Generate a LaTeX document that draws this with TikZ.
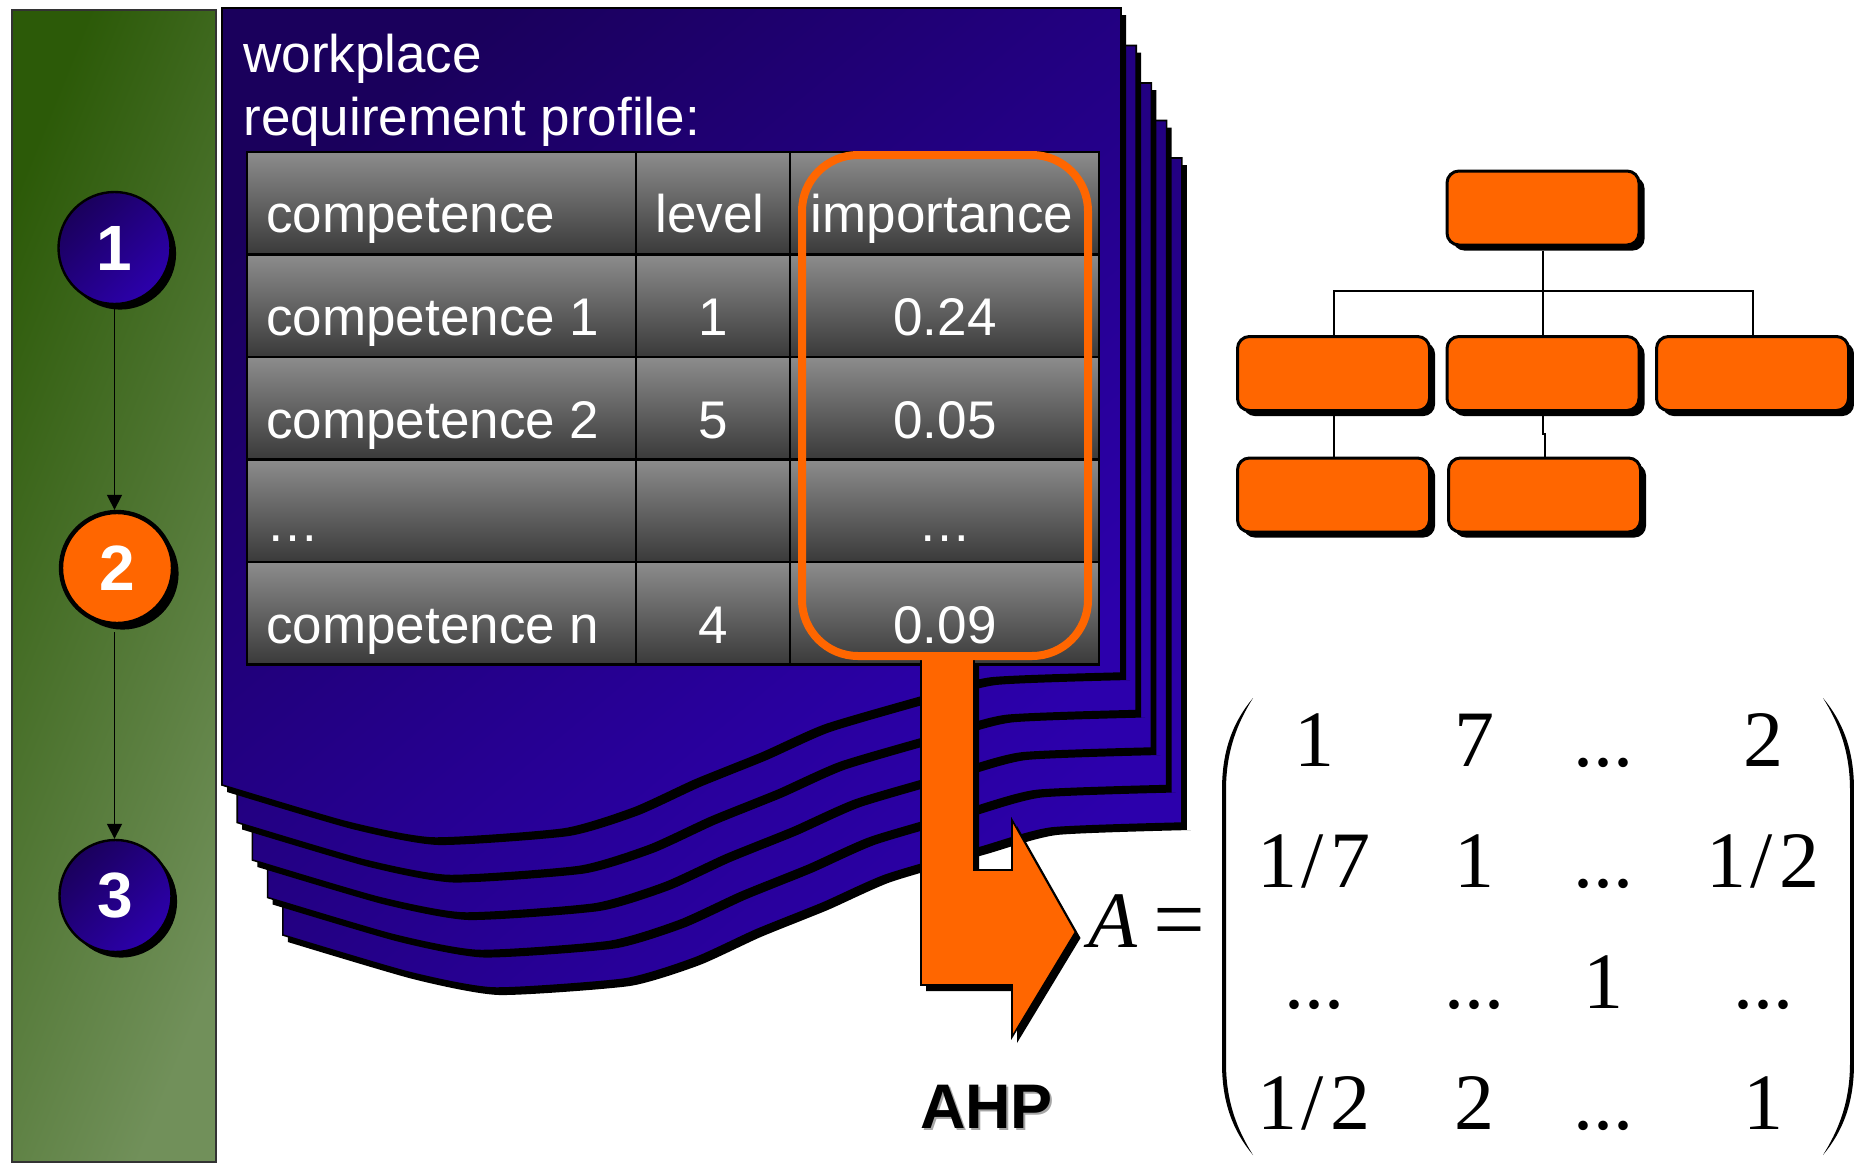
\documentclass[tikz,border=0pt]{standalone}
\usepackage{fontspec}
\setmainfont{Liberation Sans}
\newfontfamily\timesf{Liberation Serif}
\usetikzlibrary{shadows,arrows.meta}
\definecolor{hotorange}{HTML}{FF6600}
\definecolor{grnA}{HTML}{2C5A08}
\definecolor{grnB}{HTML}{71905A}
\definecolor{bluA}{HTML}{1A005C}
\definecolor{bluB}{HTML}{2C00AC}
\definecolor{cellA}{HTML}{8C8C8C}
\definecolor{cellB}{HTML}{3A3A3A}
\tikzset{
  hardshadow/.style={drop shadow={shadow xshift=2.8pt,shadow yshift=-2.8pt,fill=black,opacity=1}},
  orgbox/.style={draw=black,line width=1.5pt,fill=hotorange,rounded corners=6pt,minimum width=96pt,minimum height=37pt,inner sep=0pt,hardshadow},
  orgline/.style={draw=black,line width=1pt},
  stepcirc/.style={circle,draw=black,minimum size=56pt,inner sep=0pt,text=white,font=\fontsize{32}{36}\selectfont\bfseries,hardshadow},
  stepblue/.style={stepcirc,line width=1.2pt,top color=bluA,bottom color=bluB,shading angle=45},
  steporange/.style={stepcirc,line width=2.2pt,fill=hotorange},
  flow/.style={draw=black,line width=.85pt,-{Triangle[length=7.5pt,width=7.5pt]}},
  sheet/.style={top color=bluA,bottom color=bluB,shading angle=40},
  tcell/.style={top color=cellA,bottom color=cellB,draw=black,line width=1.2pt},
  ttext/.style={text=white,anchor=base,inner sep=0pt,font=\fontsize{26.5}{30}\selectfont},
  mtext/.style={text=black,anchor=base,inner sep=0pt,font=\timesf\fontsize{40}{44}\selectfont},
}
\newcommand\pagepath{(222,8) -- (1121,8) -- (1121,673) -- plot[smooth,tension=.35] coordinates {(1125,673) (991,678) (921,697) (825,725) (762,753) (695,780) (634,808) (564,829) (433,838) (347,822) (222,785)} -- cycle}
\newcommand\arrowpath{(921,658) -- (974,658) -- (974,870) -- (1012,870) -- (1012,820) -- (1075.5,932) -- (1012,1037) -- (1012,985) -- (921,985) -- cycle}
\newcommand\mfrac[2]{#1\kern2pt/\kern3pt #2}
\begin{document}
\begin{tikzpicture}[x=0.5pt,y=-0.5pt]
\useasboundingbox (0,0) rectangle (1854,1163);
\path[fill=white] (0,0) rectangle (1854,1163);
% green panel
\path[draw=black!80,line width=.8pt,top color=grnA,bottom color=grnB,shading angle=68] (12,10) rectangle (216,1162);
% stacked sheets, back to front
\foreach \i in {4,3,2,1,0}{
  \begin{scope}[shift={(\i*15.2,\i*37.5)}]
    \path[fill=black,shift={(5,7)}] \pagepath;
    \path[sheet,draw=black,line width=.8pt] \pagepath;
  \end{scope}
}
% heading
\node[ttext,anchor=base west] (head1) at (243,72) {workplace};
\node[ttext,anchor=base west] (head2) at (243,135) {requirement profile:};
% table
\foreach \ya/\yb in {152/254.5,254.5/357,357/459.5,459.5/562,562/664.5}{
  \foreach \xa/\xb in {247/636,636/790,790/1099}{
    \path[tcell] (\xa,\ya) rectangle (\xb,\yb);
  }
}
\node[ttext,anchor=base west] (c1) at (266,232) {competence};
\node[ttext] (l1) at (710,232) {level};
\node[ttext] (i1) at (942,232) {importance};
\node[ttext,anchor=base west] (c2) at (266,335) {competence 1};
\node[ttext] (l2) at (713,335) {1};
\node[ttext] (i2) at (945,335) {0.24};
\node[ttext,anchor=base west] (c3) at (266,438) {competence 2};
\node[ttext] (l3) at (713,438) {5};
\node[ttext] (i3) at (945,438) {0.05};
\node[ttext,anchor=base west] (c4) at (266,541) {…};
\node[ttext] (i4) at (945,541) {…};
\node[ttext,anchor=base west] (c5) at (266,643) {competence n};
\node[ttext] (l5) at (713,643) {4};
\node[ttext] (i5) at (945,643) {0.09};
% AHP arrow
\path[fill=black,shift={(5,6)}] \arrowpath;
\path[fill=hotorange,draw=black,line width=.8pt] \arrowpath;
% highlight
\draw[hotorange,line width=4pt,rounded corners=28pt] (802,155) rectangle (1088,656);
% process column
\node[stepblue] (s1) at (114.5,248) {1};
\node[steporange] (s2) at (117,568) {2};
\node[stepblue] (s3) at (115.5,896) {3};
\draw[flow] (s1.south) -- (s1.south |- s2.north);
\draw[flow] (s1.south |- s2.south) ++(0,6) -- (s1.south |- s3.north);
% org chart
\coordinate (bus) at (1543,291);
\coordinate (jog) at (1543,434);
\node[orgbox] (o0) at (1543,208) {};
\node[orgbox] (o1) at (1333.5,373.5) {};
\node[orgbox] (o2) at (1543,373.5) {};
\node[orgbox] (o3) at (1752.5,373.5) {};
\node[orgbox] (o4) at (1333.5,495) {};
\node[orgbox] (o5) at (1544.5,495) {};
\draw[orgline] (o0.south) ++(0,4) -- (o2.north);
\draw[orgline] (o1.north) |- (bus) -| (o3.north);
\draw[orgline] (o1.south) ++(0,4) -- (o4.north);
\draw[orgline] (o2.south) ++(0,4) -- (jog) -| (o5.north);
% AHP label
\node[text=black!35,anchor=base,inner sep=0pt,font=\fontsize{31.5}{36}\selectfont\bfseries] (ahpS) at (988.5,1130) {AHP};
\node[text=black,anchor=base,inner sep=0pt,font=\fontsize{31.5}{36}\selectfont\bfseries] (ahp) at (986.5,1128) {AHP};
% matrix
\node[mtext,font=\timesf\itshape\fontsize{40}{44}\selectfont] (mA) at (1113,947) {A};
\node[mtext,font=\timesf\fontsize{46}{50}\selectfont] (meq) at (1179,950) {=};
\fill (1253,698) .. controls (1233,722) and (1222,750) .. (1222,790) -- (1222,1063) .. controls (1222,1103) and (1233,1131) .. (1253,1155) .. controls (1238,1131) and (1226,1103) .. (1226,1063) -- (1226,790) .. controls (1226,750) and (1238,722) .. (1253,698) -- cycle;
\fill (1823,698) .. controls (1843,722) and (1854,750) .. (1854,790) -- (1854,1063) .. controls (1854,1103) and (1843,1131) .. (1823,1155) .. controls (1838,1131) and (1850,1103) .. (1850,1063) -- (1850,790) .. controls (1850,750) and (1838,722) .. (1823,698) -- cycle;
\node[mtext] (m11) at (1314,766) {1};
\node[mtext] (m12) at (1474,766) {7};
\node[mtext] (m13) at (1603,766) {...};
\node[mtext] (m14) at (1763,766) {2};
\node[mtext] (m21) at (1314,887) {\mfrac{1}{7}};
\node[mtext] (m22) at (1474,887) {1};
\node[mtext] (m23) at (1603,887) {...};
\node[mtext] (m24) at (1763,887) {\mfrac{1}{2}};
\node[mtext] (m31) at (1314,1008) {...};
\node[mtext] (m32) at (1474,1008) {...};
\node[mtext] (m33) at (1603,1008) {1};
\node[mtext] (m34) at (1763,1008) {...};
\node[mtext] (m41) at (1314,1129) {\mfrac{1}{2}};
\node[mtext] (m42) at (1474,1129) {2};
\node[mtext] (m43) at (1603,1129) {...};
\node[mtext] (m44) at (1763,1129) {1};
\end{tikzpicture}
\end{document}
